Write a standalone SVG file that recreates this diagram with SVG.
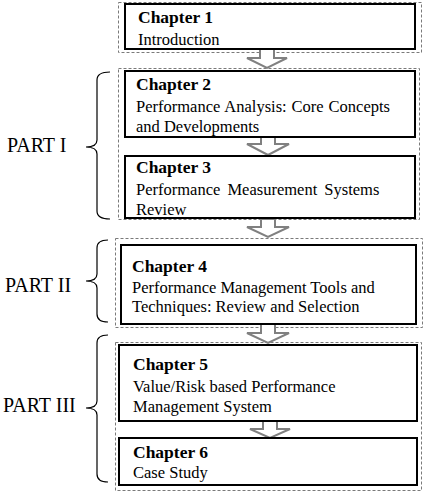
<svg xmlns="http://www.w3.org/2000/svg" width="424" height="494" viewBox="0 0 424 494">
<style>
.bg{fill:#ffffff}
.grp{fill:none;stroke:#7a7a7a;stroke-width:1;stroke-dasharray:3 2}
.box{fill:#ffffff;stroke:#000000;stroke-width:2}
.h{font-family:"Liberation Serif","Times New Roman",serif;font-weight:bold;font-size:17.5px;fill:#000}
.t{font-family:"Liberation Serif","Times New Roman",serif;font-size:16.5px;fill:#000}
.part{font-family:"Liberation Serif","Times New Roman",serif;font-size:20px;fill:#000}
.brace{fill:none;stroke:#000;stroke-width:1.2}
.arr{fill:#ffffff;stroke:#808080;stroke-width:2;stroke-linejoin:miter}
</style>
<rect class="bg" x="0" y="0" width="424" height="494"/>

<g id="groups">
<rect class="grp" x="118.5" y="2.5" width="303" height="50"/>
<rect class="grp" x="118.5" y="68.5" width="301" height="151"/>
<rect class="grp" x="115.5" y="238.5" width="307" height="89"/>
<rect class="grp" x="115.5" y="342.5" width="306" height="148"/>
</g>

<g id="parts">
<g id="part1">
<path class="brace" d="M110,72 Q97,72 97,80 L97,140 Q97,147 86,147 Q97,147 97,154 L97,211 Q97,219 110,219"/>
<text class="part" x="7" y="152">PART I</text>
</g>
<g id="part2">
<path class="brace" d="M108,240 Q97,240 97,248 L97,274 Q97,281 86,281 Q97,281 97,288 L97,314 Q97,322 108,322"/>
<text class="part" x="5" y="292">PART II</text>
</g>
<g id="part3">
<path class="brace" d="M108,335 Q97,335 97,343 L97,401 Q97,408 86,408 Q97,408 97,415 L97,474 Q97,482 108,482"/>
<text class="part" x="3" y="412">PART III</text>
</g>
</g>

<g id="connectors">
<path class="arr" d="M260,49 L274,49 L274,58 L287,58 L267,68 L247,58 L260,58 Z"/>
<path class="arr" d="M261,137 L275,137 L275,144 L289,144 L268,155 L247,144 L261,144 Z"/>
<path class="arr" d="M261,219 L275,219 L275,227 L289,227 L268,237 L247,227 L261,227 Z"/>
<path class="arr" d="M261,324 L275,324 L275,333 L289,333 L268,343 L247,333 L261,333 Z"/>
<path class="arr" d="M263,421 L277,421 L277,429 L290,429 L270,438 L250,429 L263,429 Z"/>
</g>

<g id="ch1">
<rect class="box" x="125" y="4" width="290" height="45"/>
<text class="h" x="138" y="23">Chapter 1</text>
<text class="t" x="138" y="45">Introduction</text>
</g>
<g id="ch2">
<rect class="box" x="125" y="71" width="290" height="66"/>
<text class="h" x="136" y="90">Chapter 2</text>
<text class="t" x="136" y="112" word-spacing="0.8">Performance Analysis: Core Concepts</text>
<text class="t" x="136" y="132">and Developments</text>
</g>
<g id="ch3">
<rect class="box" x="125" y="156" width="290" height="62"/>
<text class="h" x="136" y="173">Chapter 3</text>
<text class="t" x="136" y="195" word-spacing="3">Performance Measurement Systems</text>
<text class="t" x="136" y="215">Review</text>
</g>
<g id="ch4">
<rect class="box" x="121" y="245" width="295" height="79"/>
<text class="h" x="132" y="272">Chapter 4</text>
<text class="t" x="132" y="293">Performance Management Tools and</text>
<text class="t" x="132" y="312">Techniques: Review and Selection</text>
</g>
<g id="ch5">
<rect class="box" x="119" y="345" width="298" height="76"/>
<text class="h" x="133" y="370">Chapter 5</text>
<text class="t" x="133" y="392">Value/Risk based Performance</text>
<text class="t" x="133" y="412">Management System</text>
</g>
<g id="ch6">
<rect class="box" x="119" y="438" width="298" height="47"/>
<text class="h" x="133" y="458">Chapter 6</text>
<text class="t" x="133" y="478">Case Study</text>
</g>
</svg>
